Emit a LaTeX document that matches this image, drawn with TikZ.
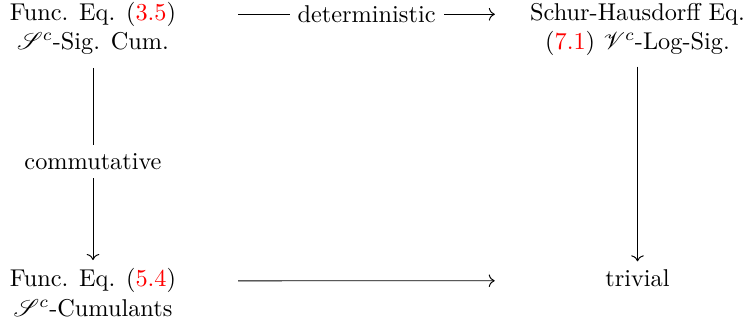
\documentclass[tikz,border=0pt]{standalone}
\usepackage{amsmath,amssymb}
\usepackage{mathrsfs}
\usepackage{xcolor}
\usetikzlibrary{arrows.meta,positioning}

\begin{document}
\begin{tikzpicture}[x=0.4115pt, y=-0.4115pt,
      eq/.style={align=center, anchor=base},
      arr/.style={-{To}, thin},
      lbl/.style={fill=white}
  ]
    \useasboundingbox (0,0) rectangle (751,324);
    \node[eq] (sig) at (93,49.5)  {Func. Eq. (\textcolor{red}{3.5})\\ $\mathscr{S}^c$-Sig. Cum.};
    \node[eq] (sh)  at (637.5,49.5) {Schur-Hausdorff Eq.\\ (\textcolor{red}{7.1}) $\mathscr{V}^c$-Log-Sig.};
    \node[eq] (cum) at (93,316) {Func. Eq.  (\textcolor{red}{5.4})\\ $\mathscr{S}^c$-Cumulants};
    \node[eq] (tr)  at (637.5,286.8) {trivial};
    % arrows
    \draw[arr, shorten <=22pt, shorten >=11pt] ([yshift=14.5pt]sig.base east) -- ([yshift=14.5pt]sh.base west)
      node[pos=0.54, lbl] {deterministic};
    \draw[arr, shorten <=22pt, shorten >=42pt] ([yshift=14.5pt]cum.base east) -- ([yshift=2.5pt]tr.base west);
    \draw[arr, shorten <=2pt] (sig.south) -- (cum.north) node[midway, lbl] {commutative};
    \draw[arr, shorten <=1pt] (sh.south) -- (tr.north);
  \end{tikzpicture}
\end{document}
